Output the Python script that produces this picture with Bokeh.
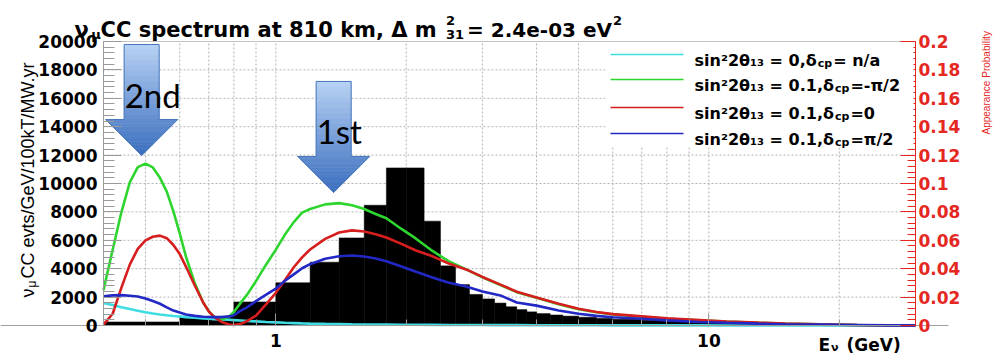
import math

from bokeh.plotting import figure
from bokeh.models import (Range1d, LinearAxis, LogAxis, FixedTicker, SingleIntervalTicker,
                          BasicTickFormatter, CustomJSTickFormatter, Label,
                          BoxAnnotation, Arrow)
from bokeh.embed import file_html
from bokeh.resources import INLINE

# ---------------------------------------------------------------- data
E_MIN, E_MAX = 0.4, 30.0          # neutrino energy range, GeV (log axis)
RATE_MAX = 20000                  # nu_mu CC events / GeV / 100kT / MW.yr
PROB_MAX = 0.2                    # appearance probability axis

# nu_mu CC event spectrum (histogram bin edges in GeV, contents)
bin_edges = [0.4, 0.6, 0.8, 1.0, 1.2, 1.4, 1.6, 1.8, 2.0, 2.2, 2.4, 2.6, 2.8, 3.0,
             3.2, 3.4, 3.6, 3.8, 4.0, 4.3, 4.6, 5.0, 5.5, 6.0, 7.0, 8.0, 9.0, 10.0,
             12.0, 14.0, 16.0, 18.0, 20.0, 25.0, 30.0]
cc_events = [250, 640, 1660, 3010, 4460, 6170, 8470, 11100, 11100, 7350, 4200, 2880,
             2190, 1870, 1580, 1320, 1120, 960, 840, 740, 660, 580, 500, 440, 370,
             310, 260, 200, 150, 110, 80, 55, 30, 12]

# appearance probability curves, sampled in energy (GeV)
energy = [0.40, 0.42, 0.44, 0.46, 0.48, 0.50, 0.52, 0.54, 0.56, 0.58,
          0.60, 0.62, 0.65, 0.68, 0.70, 0.72, 0.75, 0.78, 0.80, 0.83,
          0.86, 0.90, 0.95, 1.00, 1.05, 1.10, 1.15, 1.20, 1.30, 1.40,
          1.50, 1.60, 1.70, 1.80, 1.95, 2.10, 2.30, 2.50, 2.75, 3.00,
          3.30, 3.60, 4.00, 4.50, 5.00, 5.50, 6.00, 7.00, 8.00, 9.50,
          11.0, 13.0, 15.0, 18.0, 22.0, 26.0, 30.0]
prob_theta13_zero = [0.0159, 0.0145, 0.0129, 0.0116, 0.0104, 0.0093, 0.0085, 0.0078, 0.0072, 0.0067,
                     0.0063, 0.0059, 0.00545, 0.0050, 0.0047, 0.0045, 0.0042, 0.0040, 0.0038, 0.0035,
                     0.0032, 0.0029, 0.0025, 0.0022, 0.0019, 0.0017, 0.0015, 0.00135, 0.00115, 0.0010,
                     0.00085, 0.00075, 0.0007, 0.00065, 0.00058, 0.00052, 0.00045, 0.0004, 0.00035, 0.0003,
                     0.00027, 0.00024, 0.0002, 0.00017, 0.00015, 0.00013, 0.00011, 0.00009, 0.00008, 0.00006,
                     0.00005, 0.00004, 0.00003, 0.00002, 0.00002, 0.00001, 0.00001]
prob_dcp_minus = [0.0249, 0.0534, 0.0799, 0.1008, 0.1115, 0.1140, 0.1113, 0.1040, 0.0943, 0.0804,
                  0.0648, 0.0486, 0.0297, 0.0160, 0.0100, 0.0062, 0.0043, 0.0062, 0.0095, 0.0161,
                  0.0221, 0.0313, 0.0430, 0.0534, 0.0640, 0.0728, 0.0795, 0.0820, 0.0853, 0.0862,
                  0.0847, 0.0820, 0.0785, 0.0755, 0.0680, 0.0615, 0.0525, 0.0455, 0.0395, 0.0340,
                  0.0285, 0.0235, 0.0195, 0.0150, 0.0115, 0.0093, 0.0078, 0.0062, 0.0048, 0.0036,
                  0.0027, 0.0019, 0.0013, 0.0008, 0.0004, 0.0002, 0.0001]
prob_dcp_zero = [0.0006, 0.0083, 0.0267, 0.0429, 0.0540, 0.0600, 0.0625, 0.0633, 0.0615, 0.0567,
                 0.0503, 0.0415, 0.0282, 0.0160, 0.0100, 0.0060, 0.0025, 0.0007, 0.0003, 0.0012,
                 0.0033, 0.0070, 0.0150, 0.0230, 0.0320, 0.0410, 0.0480, 0.0535, 0.0610, 0.0655,
                 0.0670, 0.0662, 0.0643, 0.0620, 0.0575, 0.0530, 0.0487, 0.0438, 0.0395, 0.0342,
                 0.0288, 0.0238, 0.0198, 0.0153, 0.0118, 0.0095, 0.0080, 0.0064, 0.0050, 0.0038,
                 0.0028, 0.0020, 0.0014, 0.0008, 0.0004, 0.0002, 0.0001]
prob_dcp_plus = [0.0206, 0.0212, 0.0214, 0.0210, 0.0204, 0.0190, 0.0172, 0.0153, 0.0128, 0.0105,
                 0.0091, 0.0078, 0.0068, 0.0062, 0.0060, 0.0059, 0.0059, 0.0064, 0.0073, 0.0105,
                 0.0130, 0.0172, 0.0217, 0.0260, 0.0315, 0.0360, 0.0403, 0.0432, 0.0470, 0.0488,
                 0.0493, 0.0486, 0.0472, 0.0453, 0.0416, 0.0380, 0.0338, 0.0303, 0.0275, 0.0240,
                 0.0212, 0.0162, 0.0140, 0.0106, 0.0083, 0.0068, 0.0058, 0.0047, 0.0036, 0.0025,
                 0.0019, 0.0013, 0.0009, 0.0006, 0.0003, 0.0001, 0.0001]

x_major_ticks = [1, 10]
x_minor_ticks = [0.5, 0.6, 0.7, 0.8, 0.9, 2, 3, 4, 5, 6, 7, 8, 9, 20]
rate_grid = [2000, 4000, 6000, 8000, 10000, 12000, 14000, 16000, 18000]

series = [
    # (values, colour, legend text before delta subscript, after subscript)
    (prob_theta13_zero, "#3fdde2", "sin²2θ₁₃ = 0,δ", "= n/a"),
    (prob_dcp_minus, "#2ed52e", "sin²2θ₁₃ = 0.1,δ", "=-π/2"),
    (prob_dcp_zero, "#d61e1e", "sin²2θ₁₃ = 0.1,δ", "=0"),
    (prob_dcp_plus, "#2228c4", "sin²2θ₁₃ = 0.1,δ", "=π/2"),
]

# oscillation maxima markers: (label, energy at tip, rate at tip)
maxima = [("2nd", 0.49, 11970), ("1st", 1.36, 9370)]

# ---------------------------------------------------------------- layout
# The plotting frame fills the whole canvas; the data box sits inside it
# and the axes are pinned to its edges with fixed_location.
W, H = 1004, 356
BOX_L, BOX_R, BOX_T, BOX_B = 103, 915, 41, 325
LOG0, LOG1 = math.log10(E_MIN), math.log10(E_MAX)


def dx(px):
    """canvas x pixel -> energy"""
    return 10 ** (LOG0 + (px - BOX_L) / (BOX_R - BOX_L) * (LOG1 - LOG0))


def dy(py):
    """canvas y pixel -> event rate"""
    return RATE_MAX * (BOX_B - py) / (BOX_B - BOX_T)


def px_x(e):
    return BOX_L + (math.log10(e) - LOG0) / (LOG1 - LOG0) * (BOX_R - BOX_L)


def px_y(v):
    return BOX_B - v / RATE_MAX * (BOX_B - BOX_T)


# approximate advance widths of DejaVu Sans Bold (em units) for text runs
GLYPH_EM = {" ": 0.348, ".": 0.380, ",": 0.380, "=": 0.838, "-": 0.415, "/": 0.365,
            "(": 0.457, ")": 0.457, "a": 0.675, "c": 0.593, "e": 0.678, "i": 0.343,
            "k": 0.665, "m": 1.042, "n": 0.712, "p": 0.716, "r": 0.493, "s": 0.595,
            "t": 0.478, "u": 0.712, "C": 0.734, "E": 0.683, "G": 0.821, "V": 0.774,
            "Δ": 0.774, "θ": 0.687, "δ": 0.687, "π": 0.760, "ν": 0.652, "μ": 0.721,
            "²": 0.438, "₁": 0.438, "₃": 0.438}


def text_width(s, size):
    return sum(GLYPH_EM.get(ch, 0.696) for ch in s) * size


PROB_PER_RATE = PROB_MAX / RATE_MAX

p = figure(width=W, height=H, x_axis_type="log",
           x_axis_location=None, y_axis_location=None,
           x_range=Range1d(dx(0), dx(W)), y_range=Range1d(dy(H), dy(0)),
           output_backend="svg", toolbar_location=None, min_border=0)
p.title.text = ""
p.background_fill_color = "white"
p.border_fill_color = "white"
p.outline_line_color = None
for g in p.grid:
    g.visible = False
p.extra_y_ranges = {"prob": Range1d(dy(H) * PROB_PER_RATE, dy(0) * PROB_PER_RATE)}

# ---- grid (dotted, inside the data box only)
GRID = dict(line_color="#b3b3b3", line_width=1, line_dash="2 2")
p.segment(x0=E_MIN, x1=E_MAX, y0=rate_grid, y1=rate_grid, **GRID)
grid_x = x_major_ticks + x_minor_ticks
p.segment(x0=grid_x, x1=grid_x, y0=0, y1=RATE_MAX, **GRID)
p.segment(x0=E_MIN, x1=E_MAX, y0=RATE_MAX, y1=RATE_MAX, line_color="#c4c4c4", line_width=1)
p.segment(x0=dx(0), x1=dx(948), y0=0, y1=0, line_color="#a0a0a0", line_width=1.2)

# ---- event spectrum
p.quad(left=bin_edges[:-1], right=bin_edges[1:], bottom=0, top=cc_events,
       fill_color="black", line_color="black", line_width=0.5)

# ---- appearance probabilities (right axis)
for values, colour, _, _ in series:
    p.line(energy, values, y_range_name="prob", line_color=colour, line_width=2.6)

# ---- axes
TICK_FONT = "DejaVu Sans"
GREY = "#9a9a9a"
RED = "#e4281f"


def style_axis(ax, colour, label_colour, tick_in, minor_in, standoff):
    ax.axis_line_color = colour
    ax.major_tick_line_color = colour
    ax.minor_tick_line_color = colour
    ax.major_tick_in, ax.major_tick_out = tick_in, 0
    ax.minor_tick_in, ax.minor_tick_out = minor_in, 0
    ax.major_label_standoff = standoff
    ax.major_label_text_font = TICK_FONT
    ax.major_label_text_font_style = "bold"
    ax.major_label_text_font_size = "17px"
    ax.major_label_text_color = label_colour


xa = LogAxis(fixed_location=0, bounds=(E_MIN, E_MAX),
             ticker=FixedTicker(ticks=x_major_ticks, minor_ticks=x_minor_ticks),
             formatter=BasicTickFormatter())
style_axis(xa, GREY, "black", 12, 6, 8)
p.add_layout(xa, "below")

ya = LinearAxis(fixed_location=E_MIN, bounds=(0, RATE_MAX),
                ticker=SingleIntervalTicker(interval=2000, num_minor_ticks=5),
                formatter=BasicTickFormatter(use_scientific=False))
style_axis(ya, GREY, "black", 18, 11, 6)
p.add_layout(ya, "left")

ra = LinearAxis(y_range_name="prob", fixed_location=E_MAX, bounds=(0, PROB_MAX),
                ticker=SingleIntervalTicker(interval=0.02, num_minor_ticks=5),
                formatter=CustomJSTickFormatter(
                    code="return (Math.round(tick * 100) / 100).toString();"))
style_axis(ra, RED, RED, 15, 8, 3)
p.add_layout(ra, "right")


# ---- arrows marking the oscillation maxima (vertical gradient fill)
def lerp_colour(c0, c1, t):
    return "#%02x%02x%02x" % tuple(int(round(a + (b - a) * t)) for a, b in zip(c0, c1))


ARROW_LEN, HEAD_LEN, SHAFT_HALF, HEAD_HALF = 111, 36, 17.5, 36
TOP_RGB, TIP_RGB = (184, 210, 244), (58, 110, 190)
band_xs, band_ys, band_cols = [], [], []
out_xs, out_ys = [], []
for name, e_tip, v_tip in maxima:
    xc, y_tip = px_x(e_tip), px_y(v_tip)
    y_top, y_base = y_tip - ARROW_LEN, y_tip - HEAD_LEN
    cuts = [y_top + (y_base - y_top) * k / 14 for k in range(15)]
    for a, b in zip(cuts[:-1], cuts[1:]):
        band_xs.append([dx(xc - SHAFT_HALF), dx(xc + SHAFT_HALF), dx(xc + SHAFT_HALF), dx(xc - SHAFT_HALF)])
        band_ys.append([dy(a), dy(a), dy(b + 0.4), dy(b + 0.4)])
        band_cols.append(lerp_colour(TOP_RGB, TIP_RGB, ((a + b) / 2 - y_top) / ARROW_LEN))
    cuts = [y_base + (y_tip - y_base) * k / 10 for k in range(11)]
    for a, b in zip(cuts[:-1], cuts[1:]):
        ha = HEAD_HALF * (y_tip - a) / HEAD_LEN
        hb = HEAD_HALF * (y_tip - b) / HEAD_LEN
        band_xs.append([dx(xc - ha), dx(xc + ha), dx(xc + hb), dx(xc - hb)])
        band_ys.append([dy(a), dy(a), dy(b), dy(b)])
        band_cols.append(lerp_colour(TOP_RGB, TIP_RGB, ((a + b) / 2 - y_top) / ARROW_LEN))
    ox = [xc - SHAFT_HALF, xc + SHAFT_HALF, xc + SHAFT_HALF, xc + HEAD_HALF, xc,
          xc - HEAD_HALF, xc - SHAFT_HALF, xc - SHAFT_HALF]
    oy = [y_top, y_top, y_base, y_base, y_tip, y_base, y_base, y_top]
    out_xs.append([dx(v) for v in ox])
    out_ys.append([dy(v) for v in oy])

p.patches(band_xs, band_ys, fill_color=band_cols, line_color=band_cols, line_width=0.6)
p.patches(out_xs, out_ys, fill_color=None, line_color="#4a78bb", line_width=1)

# ---- legend (white panel over the grid and the right-hand ticks)
p.add_layout(BoxAnnotation(left=dx(605), right=dx(913), top=dy(42), bottom=dy(146),
                           fill_color="white", fill_alpha=1.0, line_color=None))


def put(px, py, text, size, color="black", font="DejaVu Sans", style="bold",
        align="left", baseline="alphabetic", angle=0.0):
    p.add_layout(Label(x=dx(px), y=dy(py), text=text, text_font=font,
                       text_font_size=f"{size}px", text_font_style=style,
                       text_color=color, text_align=align, text_baseline=baseline,
                       angle=angle))


ROW_Y = [54, 79, 107, 133]
for (values, colour, head, tail), ry in zip(series, ROW_Y):
    p.add_layout(Arrow(end=None, x_start=dx(610), y_start=dy(ry), x_end=dx(683), y_end=dy(ry),
                       line_color=colour, line_width=1.6))
    x0 = 694
    put(x0, ry + 6, head, 16)
    x0 += text_width(head, 16) + 1
    put(x0, ry + 9, "cp", 11)
    x0 += text_width("cp", 11) + 1
    put(x0, ry + 6, tail, 16)

# ---- arrow captions
for name, e_tip, v_tip in maxima:
    put(px_x(e_tip) - 17, px_y(v_tip) - 61, name, 33, font="Lato", style="normal")

# ---- title:  nu_mu CC spectrum at 810 km, Delta m^2_31 = 2.4e-03 eV^2
cx = 74
put(cx, 29, "ν", 21)
cx += text_width("ν", 21) + 3
put(cx, 34, "μ", 13)
cx += text_width("μ", 13)
main = " CC spectrum at 810 km, Δ m"
put(cx, 29, main, 21)
cx += text_width(main, 21) + 2
put(cx, 20, "2", 13)
put(cx, 34, "31", 13)
cx += text_width("31", 13) + 3
rest = "= 2.4e-03 eV"
put(cx, 29, rest, 20)
cx += text_width(rest, 20) + 1
put(cx, 20, "2", 13)

# ---- axis titles
HALF_PI = math.pi / 2
put(27, 297, "ν", 18, font="Liberation Sans", style="normal", angle=HALF_PI)
put(31, 287, "μ", 12, font="Liberation Sans", style="normal", angle=HALF_PI)
put(27, 278, "CC evts/GeV/100kT/MW.yr", 18, font="Liberation Sans", style="normal", angle=HALF_PI)

put(986, 134, "Appearance Probability", 10, color=RED, font="Liberation Sans",
    style="normal", angle=HALF_PI)

put(818, 344, "E", 17)
put(818 + text_width("E", 17) + 1, 347, "ν", 11)
put(846, 344, "(GeV)", 17)

open("out.html", "w").write(file_html(p, INLINE))
